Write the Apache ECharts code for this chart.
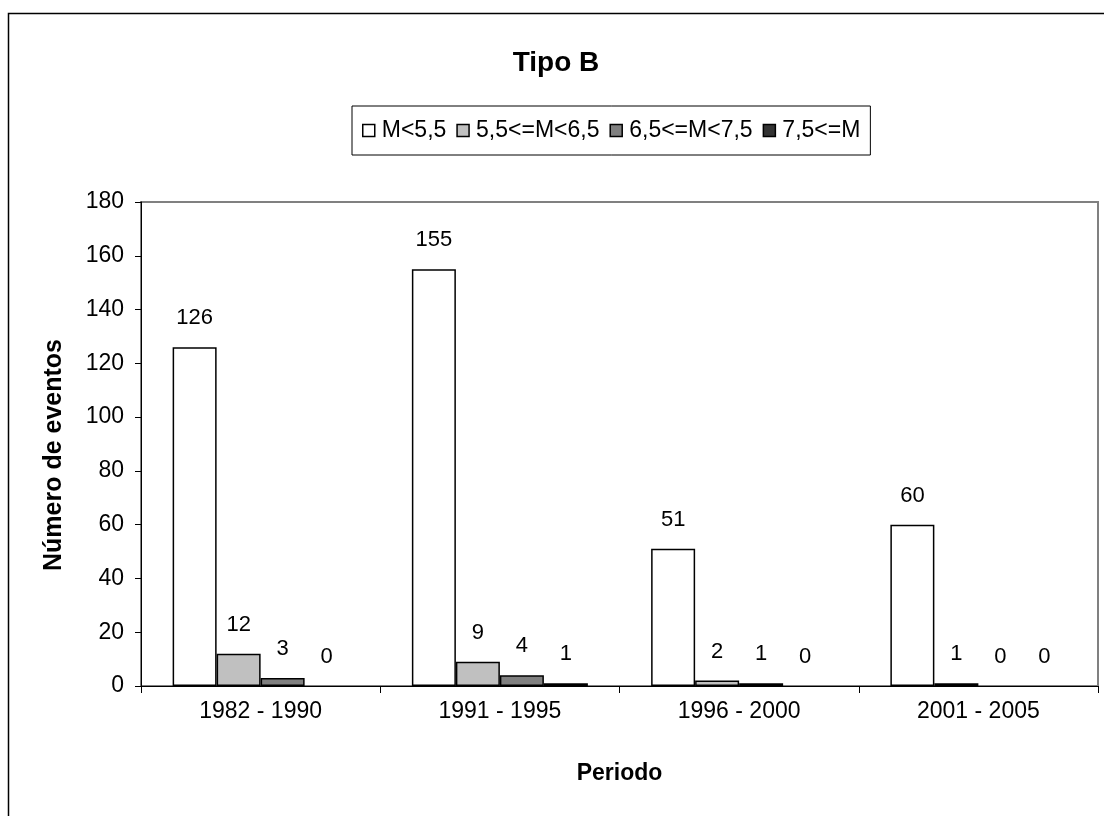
<!DOCTYPE html>
<html>
<head>
<meta charset="utf-8">
<script src="https://cdn.jsdelivr.net/npm/echarts@6/dist/echarts.min.js"></script>
<style>
  html, body { margin: 0; padding: 0; background: #fff; }
  #chart { width: 1104px; height: 816px; }
</style>
</head>
<body>
<div id="chart"></div>
<script>
// Periods on the category axis
const periods = ['1982 - 1990', '1991 - 1995', '1996 - 2000', '2001 - 2005'];
// Event counts per magnitude class
const seriesNames = ['M<5,5', '5,5<=M<6,5', '6,5<=M<7,5', '7,5<=M'];
const mLow   = [126, 155, 51, 60];
const mMid   = [12, 9, 2, 1];
const mHigh  = [3, 4, 1, 0];
const mTop   = [0, 1, 0, 0];
const seriesValues = [mLow, mMid, mHigh, mTop];
const fills = ['#FFFFFF', '#C0C0C0', '#808080', '#333333'];

const font = 'Liberation Sans, Arial, sans-serif';
const chart = echarts.init(document.getElementById('chart'), null, { renderer: 'canvas' });

// Zero-height bars get no outline so they do not thicken the axis line
const toItems = vals => vals.map(v => v === 0 ? { value: v, itemStyle: { borderWidth: 0 } } : v);

chart.setOption({
  backgroundColor: '#FFFFFF',
  animation: false,
  textStyle: { fontFamily: font, color: '#000' },
  title: {
    text: 'Tipo B',
    left: 551, top: 44, textAlign: 'center',
    textStyle: { fontFamily: font, fontSize: 28, fontWeight: 'bold', color: '#000' }
  },
  legend: {
    data: seriesNames,
    left: 352, top: 106,
    padding: [13, 10, 13, 10],
    itemGap: 10,
    itemWidth: 12, itemHeight: 12,
    borderColor: '#000', borderWidth: 1,
    icon: 'rect',
    itemStyle: { borderColor: '#000', borderWidth: 1.5 },
    textStyle: { fontFamily: font, fontSize: 23, color: '#000', padding: [0, 0, 0, 2] }
  },
  grid: {
    left: 141, right: 6, top: 202, bottom: 130,
    show: true, borderColor: '#808080', borderWidth: 2, backgroundColor: 'transparent'
  },
  xAxis: {
    type: 'category',
    data: periods,
    name: 'Periodo',
    nameLocation: 'middle',
    nameGap: 76,
    nameTextStyle: { fontFamily: font, fontSize: 23, fontWeight: 'bold', color: '#000' },
    axisLine: { lineStyle: { color: '#000', width: 1 } },
    axisTick: { show: true, length: 7, lineStyle: { color: '#000' } },
    axisLabel: { fontFamily: font, fontSize: 23, color: '#000', margin: 14 },
    splitLine: { show: false }
  },
  yAxis: {
    type: 'value',
    min: 0, max: 180, interval: 20,
    name: 'Número de eventos',
    nameLocation: 'middle',
    nameGap: 74,
    nameRotate: 90,
    nameTextStyle: {
      fontFamily: font, fontSize: 25, fontWeight: 'bold', color: '#000',
      padding: [0, 22, 0, 0]
    },
    axisLine: { show: true, lineStyle: { color: '#000', width: 1 } },
    axisTick: { show: true, length: 6, lineStyle: { color: '#000' } },
    axisLabel: { fontFamily: font, fontSize: 23, color: '#000', margin: 17 },
    splitLine: { show: false }
  },
  series: seriesNames.map((name, i) => ({
    name: name,
    type: 'bar',
    data: toItems(seriesValues[i]),
    barWidth: 44,
    barGap: '0%',
    barCategoryGap: '26%',
    itemStyle: { color: fills[i], borderColor: '#000', borderWidth: 1.5 },
    label: {
      show: true, position: 'top', distance: 18,
      fontFamily: font, fontSize: 22, color: '#000'
    }
  })),
  graphic: [{
    type: 'rect',
    shape: { x: 8.5, y: 13.5, width: 1120, height: 840 },
    style: { fill: 'none', stroke: '#000', lineWidth: 1.5 },
    silent: true
  }]
});
</script>
</body>
</html>
